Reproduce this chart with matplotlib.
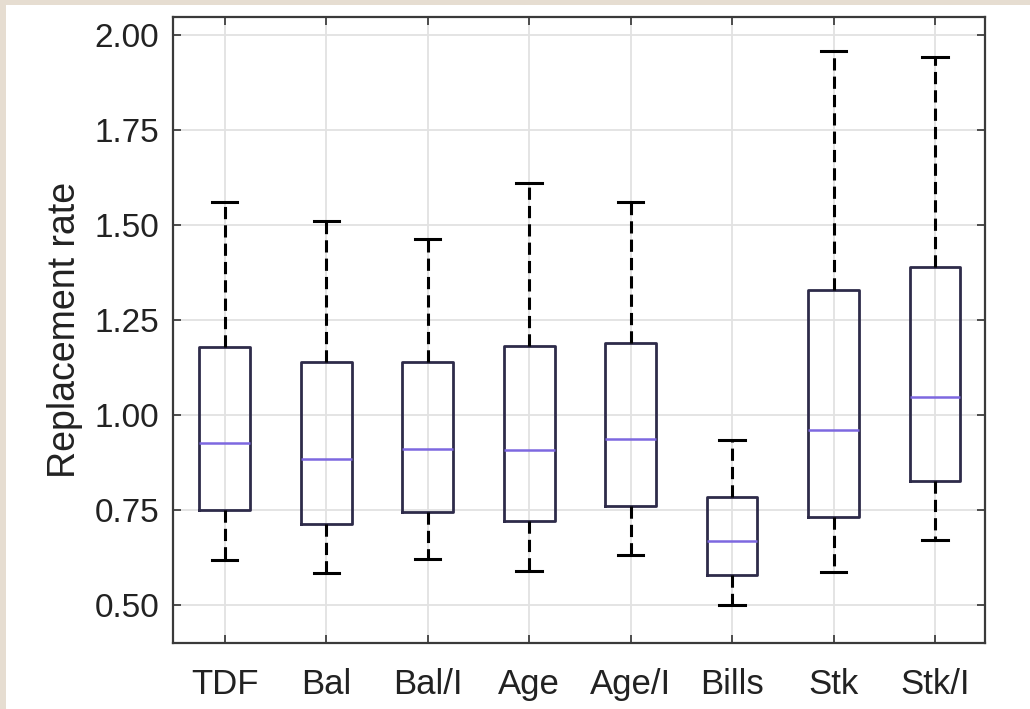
import matplotlib.pyplot as plt
from matplotlib.patches import Rectangle

# data
labels = ['TDF', 'Bal', 'Bal/I', 'Age', 'Age/I', 'Bills', 'Stk', 'Stk/I']
whislo = [0.618, 0.584, 0.621, 0.589, 0.632, 0.500, 0.587, 0.671]
q1 = [0.750, 0.713, 0.745, 0.721, 0.761, 0.579, 0.732, 0.826]
med = [0.926, 0.884, 0.910, 0.908, 0.937, 0.668, 0.961, 1.047]
q3 = [1.180, 1.140, 1.140, 1.182, 1.190, 0.784, 1.329, 1.389]
whishi = [1.560, 1.510, 1.463, 1.610, 1.560, 0.934, 1.958, 1.942]
yticks = [0.50, 0.75, 1.00, 1.25, 1.50, 1.75, 2.00]

plt.rcParams['font.family'] = ['Liberation Sans', 'DejaVu Sans']

fig = plt.figure(figsize=(10.30, 7.09), dpi=100)
fig.patch.set_facecolor('#e6ddd1')
# white page, beige strip only on the left and top
fig.patches.append(Rectangle((6 / 1030, 0), 1, 1 - 5 / 709, transform=fig.transFigure,
                             facecolor='white', edgecolor='none', zorder=-10))

ax = fig.add_axes([0.168, 0.093, 0.788, 0.883])

stats = []
for i, name in enumerate(labels):
    stats.append({'label': name, 'whislo': whislo[i], 'q1': q1[i], 'med': med[i],
                  'q3': q3[i], 'whishi': whishi[i], 'fliers': []})

ax.bxp(stats, positions=range(1, len(labels) + 1), widths=0.5, capwidths=0.25,
       showfliers=False,
       boxprops=dict(color='#2e2b4a', linewidth=2.0),
       medianprops=dict(color='#7d68e0', linewidth=1.8),
       whiskerprops=dict(color='black', linewidth=2.2, linestyle=(0, (4, 2))),
       capprops=dict(color='black', linewidth=2.2))

ax.set_xlim(0.49, 8.49)
ax.set_ylim(0.40, 2.047)
ax.set_yticks(yticks)
ax.set_yticklabels([f'{v:.2f}' for v in yticks])
ax.set_xticks(range(1, len(labels) + 1))
ax.set_xticklabels(labels)

ax.grid(True, color='#e2e2e2', linewidth=1.3)
ax.set_axisbelow(True)
ax.tick_params(direction='in', top=True, right=True, length=6, width=1.2,
               colors='#333333', labelcolor='#222222')
ax.tick_params(axis='x', pad=18, labelsize=25)
ax.tick_params(axis='y', pad=10, labelsize=24)
for s in ax.spines.values():
    s.set_color('#3a3a3a')
    s.set_linewidth(1.6)

ax.set_ylabel('Replacement rate', fontsize=27, color='#222222', labelpad=8)

fig.savefig('out.png', dpi=100, facecolor=fig.get_facecolor())
